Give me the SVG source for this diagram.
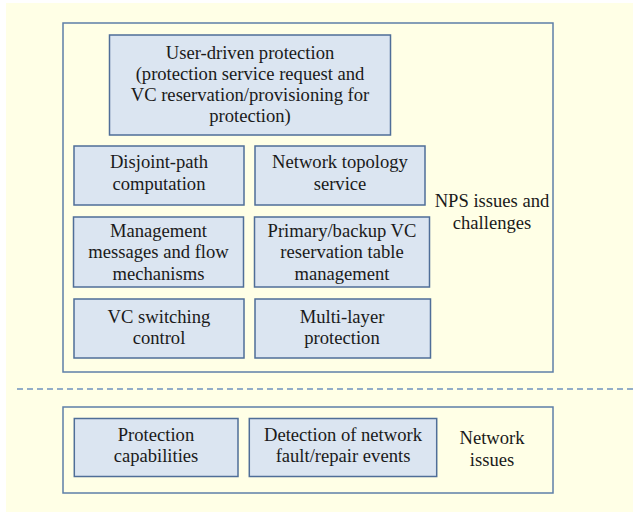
<svg xmlns="http://www.w3.org/2000/svg" width="633" height="512" viewBox="0 0 633 512">
<style>
.bg{fill:#FFFFE6;}
.frame{fill:none;stroke:#5E7FA8;stroke-width:1.5;}
.node{fill:#DBE5F1;stroke:#4F6E98;stroke-width:1.5;}
text{font-family:"Liberation Serif","Times New Roman",serif;font-size:18.6px;fill:#1a1a1a;text-anchor:middle;}
</style>
<rect x="0" y="0" width="633" height="512" fill="#ffffff"/>
<rect class="bg" x="6" y="3" width="627" height="509"/>
<g id="nps-frame">
<rect class="frame" x="63" y="23" width="490" height="349"/>
<text x="492" y="207.3">NPS issues and</text>
<text x="492" y="228.5">challenges</text>
</g>
<g id="connectors">
<line x1="17" y1="389" x2="633" y2="389" stroke="#6F93BE" stroke-width="1.5" stroke-dasharray="6,4"/>
</g>
<g id="user-driven">
<rect class="node" x="109.5" y="35" width="281" height="100"/>
<text x="250" y="58.5">User-driven protection</text>
<text x="250" y="79.6">(protection service request and</text>
<text x="250" y="100.7">VC reservation/provisioning for</text>
<text x="250" y="121.8">protection)</text>
</g>
<g id="disjoint">
<rect class="node" x="74" y="146" width="170" height="59"/>
<text x="159" y="168.3">Disjoint-path</text>
<text x="159" y="190">computation</text>
</g>
<g id="topology">
<rect class="node" x="255" y="146" width="170" height="59"/>
<text x="340" y="168.3">Network topology</text>
<text x="340" y="190">service</text>
</g>
<g id="management">
<rect class="node" x="73.5" y="217" width="170" height="70"/>
<text x="158.5" y="236.7">Management</text>
<text x="158.5" y="258.2">messages and flow</text>
<text x="158.5" y="279.5">mechanisms</text>
</g>
<g id="primary-backup">
<rect class="node" x="254.5" y="217" width="175" height="70"/>
<text x="342" y="236.7">Primary/backup VC</text>
<text x="342" y="258.2">reservation table</text>
<text x="342" y="279.5">management</text>
</g>
<g id="vc-switching">
<rect class="node" x="74" y="299" width="170" height="59"/>
<text x="159" y="322.5">VC switching</text>
<text x="159" y="343.5">control</text>
</g>
<g id="multi-layer">
<rect class="node" x="255" y="299" width="175.5" height="59"/>
<text x="342" y="322.5">Multi-layer</text>
<text x="342" y="343.5">protection</text>
</g>
<g id="network-frame">
<rect class="frame" x="63" y="407" width="490" height="86"/>
<text x="492" y="444">Network</text>
<text x="492" y="465.5">issues</text>
</g>
<g id="protection-capabilities">
<rect class="node" x="74.3" y="418.5" width="163.7" height="58"/>
<text x="156" y="440.7">Protection</text>
<text x="156" y="461.7">capabilities</text>
</g>
<g id="detection">
<rect class="node" x="249.3" y="418.5" width="187.4" height="58"/>
<text x="343" y="440.7">Detection of network</text>
<text x="343" y="461.7">fault/repair events</text>
</g>
</svg>
